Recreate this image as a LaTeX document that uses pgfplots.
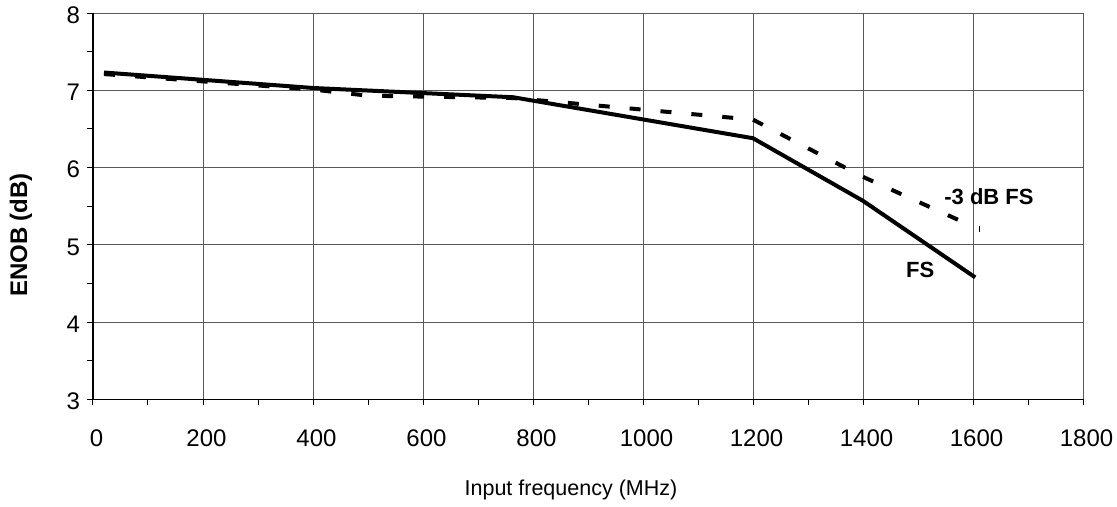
\documentclass[border=0pt]{standalone}
\usepackage{pgfplots}
\pgfplotsset{compat=1.18}
\usepackage{fontspec}
\setmainfont{Liberation Sans}
\begin{document}
\begin{tikzpicture}
\begin{axis}[
  at={(0,0)}, anchor=south west,
  scale only axis,
  width=495pt, height=193.25pt,
  xmin=0, xmax=1800, ymin=3, ymax=8,
  xtick={0,200,...,1800},
  ytick={3,4,...,8},
  minor x tick num=1,
  minor y tick num=1,
  xmajorgrids, ymajorgrids,
  grid style={black!65, line width=0.5pt},
  axis lines=left,
  axis line style={-, black, line width=0.6pt},
  tick align=outside,
  xtick pos=bottom, ytick pos=left,
  major tick length=3pt, minor tick length=3pt,
  tick style={black, line width=0.5pt},
  every x tick/.style={black, line width=0.5pt},
  /pgf/number format/assume math mode=true,
  /pgf/number format/1000 sep={},
  ticklabel style={font=\fontsize{12}{14}\selectfont},
  xticklabel style={yshift=-8.4pt, xshift=1.75pt},
  yticklabel style={yshift=-1pt},
  clip=false,
]
\addplot[black, line width=2pt, line join=round] coordinates {
  (20,7.23) (400,7.03) (764,6.91) (1200,6.38) (1400,5.57) (1604,4.58)
};
\addplot[black, line width=2pt, dash pattern=on 5.5pt off 10pt] coordinates {
  (20,7.21) (400,7.01) (500,6.93) (764,6.90) (1000,6.75) (1200,6.62) (1400,5.88) (1590,5.27)
};
\addplot[black, line width=0.5pt] coordinates {(1611,5.17) (1611,5.24)};
\node[font=\bfseries\fontsize{11}{13}\selectfont] at (axis cs:1629,5.62) {-3 dB FS};
\node[font=\bfseries\fontsize{11}{13}\selectfont] at (axis cs:1504,4.68) {FS};
\node[font=\bfseries\fontsize{12}{14}\selectfont, rotate=90] at (axis description cs:-0.0727,0.4256) {ENOB (dB)};
\node[font=\fontsize{10.75}{13}\selectfont] at (axis description cs:0.4828,-0.234) {Input frequency (MHz)};
\end{axis}
\pgfresetboundingbox
\path (-46.5pt,-53.75pt) rectangle (512pt,199.75pt);
\end{tikzpicture}
\end{document}
